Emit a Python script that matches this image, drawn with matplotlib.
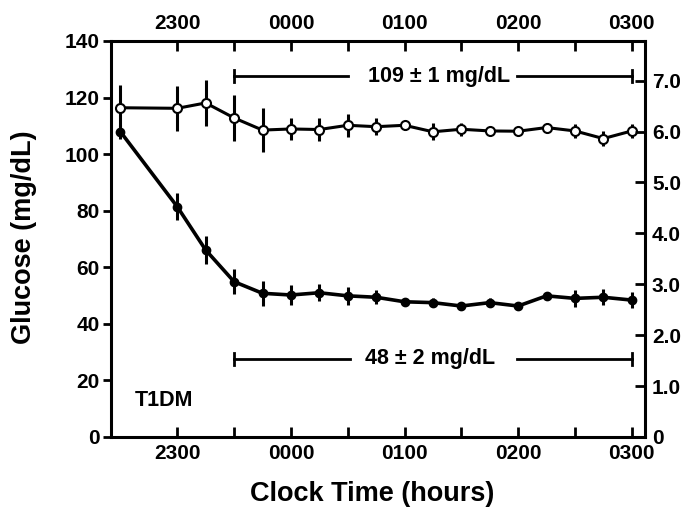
import matplotlib
matplotlib.use("Agg")
import matplotlib.pyplot as plt

plt.rcParams['font.family'] = ['Liberation Sans', 'DejaVu Sans']
plt.rcParams['font.weight'] = 'bold'

# minutes relative to midnight (2230 ... 0300, every 15 min after 2300)
minutes = [-90, -60, -45, -30, -15, 0, 15, 30, 45, 60, 75, 90, 105, 120, 135, 150, 165, 180]

# euglycemic (open circles)
eu_mean = [116.4, 116.2, 118.1, 112.8, 108.5, 108.9, 108.7, 110.2, 109.7,
           110.2, 107.9, 108.8, 108.2, 108.1, 109.4, 108.2, 105.5, 108.2]
eu_se = [8, 8, 8, 8, 7.8, 4, 4, 4, 3, 1.5, 3, 2.3, 1.5, 1.5, 1.5, 2.6, 2.6, 2.5]

# hypoglycemic (filled circles)
hypo_mean = [107.9, 81.4, 66.1, 54.9, 50.8, 50.2, 51.0, 49.9, 49.4,
             47.8, 47.5, 46.3, 47.5, 46.3, 49.9, 49.0, 49.4, 48.4]
hypo_se = [2.5, 4.7, 5, 4.4, 4.4, 3.5, 3, 3.2, 2.5, 1.5, 1.5, 1.5, 1.5, 1.5, 1.5, 3, 2.8, 2.8]

hour_ticks = [-60, 0, 60, 120, 180]
hour_labels = ["2300", "0000", "0100", "0200", "0300"]
half_ticks = [-30, 30, 90, 150]

TICK_FS = 15
LABEL_FS = 19.5
TEXT_FS = 15.5

fig = plt.figure(figsize=(6.84, 5.08), dpi=100)
ax = fig.add_axes([0.1623, 0.1398, 0.943 - 0.1623, 0.9193 - 0.1398])

ax.errorbar(minutes, eu_mean, yerr=eu_se, color='black', lw=2.2, elinewidth=2.2,
            marker='o', ms=6.5, mfc='white', mec='black', mew=1.5, capsize=0, zorder=3)
ax.errorbar(minutes, hypo_mean, yerr=hypo_se, color='black', lw=2.6, elinewidth=2.2,
            marker='o', ms=6, mfc='black', mec='black', capsize=0, zorder=3)

ax.set_xlim(-95, 187)
ax.set_ylim(0, 140)
ax.set_yticks(range(0, 141, 20))
ax.set_xticks(hour_ticks)
ax.set_xticklabels(hour_labels)
ax.set_xticks(half_ticks, minor=True)
ax.tick_params(axis='y', direction='out', length=6, width=2, labelsize=TICK_FS, pad=2)
ax.tick_params(axis='x', which='both', direction='in', length=7, width=2, labelsize=TICK_FS, pad=5)
for s in ax.spines.values():
    s.set_linewidth(2.2)

ax.set_ylabel("Glucose (mg/dL)", fontsize=LABEL_FS, fontweight='bold')
ax.set_xlabel("Clock Time (hours)", fontsize=LABEL_FS, fontweight='bold')
ax.yaxis.set_label_coords(-0.138, 0.504)
ax.xaxis.set_label_coords(0.489, -0.112)

# right axis in mmol/L
ax2 = ax.twinx()
ax2.set_ylim(0, 140 / 18.0)
ax2.set_yticks(range(0, 8))
ax2.set_yticklabels(["0"] + ["%.1f" % v for v in range(1, 8)])
ax2.tick_params(axis='y', direction='in', length=7, width=2, labelsize=TICK_FS, pad=5)

# top axis
ax3 = ax.twiny()
ax3.set_xlim(ax.get_xlim())
ax3.set_xticks(hour_ticks)
ax3.set_xticklabels(hour_labels)
ax3.set_xticks(half_ticks, minor=True)
ax3.tick_params(axis='x', which='both', direction='in', length=7, width=2, labelsize=TICK_FS, pad=6)

# plateau brackets
def bracket(y, x0, x1, gap0, gap1, xt, text):
    ax.plot([x0, gap0], [y, y], color='black', lw=2)
    ax.plot([gap1, x1], [y, y], color='black', lw=2)
    ax.plot([x0, x0], [y - 2, y + 2], color='black', lw=2)
    ax.plot([x1, x1], [y - 2, y + 2], color='black', lw=2)
    ax.text(xt, y, text, ha='center', va='center', fontsize=TEXT_FS, fontweight='bold')

bracket(127.6, -30, 180, 30, 119.5, 78.5, "109 \u00b1 1 mg/dL")
bracket(27.6, -30, 180, 31, 119.5, 73.5, "48 \u00b1 2 mg/dL")

ax.text(-82.5, 13, "T1DM", fontsize=TEXT_FS, fontweight='bold', va='center', ha='left')

fig.savefig("out.png", dpi=100)
